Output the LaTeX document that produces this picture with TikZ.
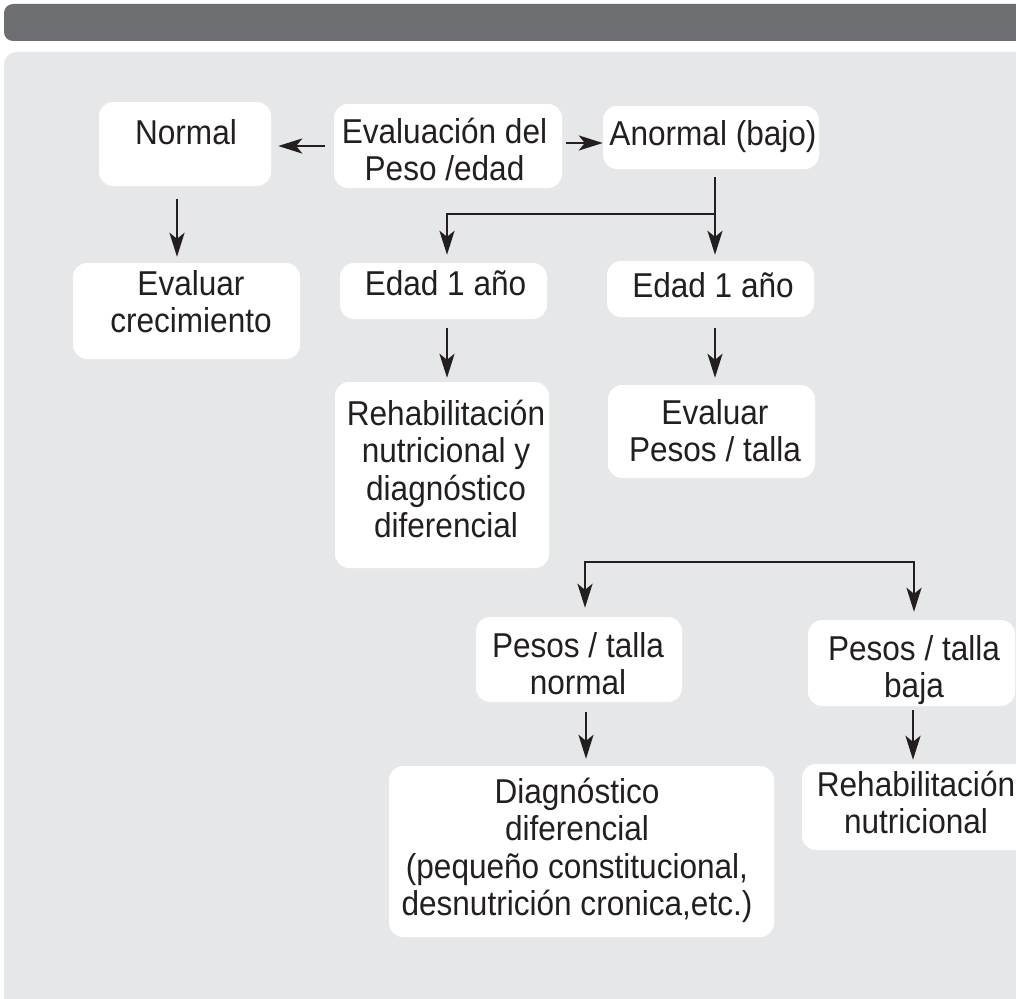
\documentclass[tikz,border=0pt]{standalone}
\usepackage{fontspec}
\setmainfont{Liberation Sans}[FakeStretch=0.915]
\usetikzlibrary{arrows.meta}
\definecolor{ink}{HTML}{231F20}
\definecolor{barc}{HTML}{6D6E71}
\definecolor{panelc}{HTML}{E6E7E8}
\newcommand{\mlines}[1]{\begin{tabular}[t]{@{}c@{}}#1\end{tabular}}
\begin{document}
\begin{tikzpicture}[x=1pt,y=-1pt,
  box/.style={fill=white, rounded corners=14pt, inner sep=0pt},
  txt/.style={anchor=base, text=ink, inner sep=0pt, font=\fontsize{34.5}{37.5}\selectfont},
  arr/.style={draw=ink, line width=2.6pt, -{Stealth[length=24pt,width=15pt,inset=6pt]}}]
\clip (0,0) rectangle (1016,998);
\fill[white] (0,0) rectangle (1016,998);
\fill[barc, rounded corners=9pt] (4,4) rectangle (1040,41);
\fill[panelc, rounded corners=12pt] (4,52) rectangle (1040,1030);

% boxes
\node[box, minimum width=172pt, minimum height=84pt] (normal) at (185,144) {};
\node[box, minimum width=228pt, minimum height=84pt] (eval) at (448,146) {};
\node[box, minimum width=216pt, minimum height=63pt] (anormal) at (711,137.5) {};
\node[box, minimum width=227pt, minimum height=96pt] (crec) at (186.5,311) {};
\node[box, minimum width=207pt, minimum height=56pt] (edadL) at (443.5,291) {};
\node[box, minimum width=207pt, minimum height=56pt] (edadR) at (710.5,289) {};
\node[box, minimum width=214pt, minimum height=186pt] (rehab) at (442,475) {};
\node[box, minimum width=207pt, minimum height=93pt] (evpt) at (711.5,431.5) {};
\node[box, minimum width=206pt, minimum height=85pt] (ptn) at (579,659.5) {};
\node[box, minimum width=207pt, minimum height=86pt] (ptb) at (911.5,663) {};
\node[box, minimum width=385pt, minimum height=171pt] (diag) at (581.5,851.5) {};
\node[box, minimum width=230pt, minimum height=86pt] (rehabR) at (917,807) {};

% texts
\node[txt] (normal-t) at (186,144) {Normal};
\node[txt] (eval-t) at (444.5,143) {\mlines{Evaluación del\\Peso /edad}};
\node[txt] (anormal-t) at (713,145) {Anormal (bajo)};
\node[txt] (crec-t) at (191,295) {\mlines{Evaluar\\crecimiento}};
\node[txt] (edadL-t) at (445.5,295) {Edad 1 año};
\node[txt] (edadR-t) at (713,297) {Edad 1 año};
\node[txt] (rehab-t) at (446,425) {\mlines{Rehabilitación\\nutricional y\\diagnóstico\\diferencial}};
\node[txt] (evpt-t) at (715,424) {\mlines{Evaluar\\Pesos / talla}};
\node[txt] (ptn-t) at (578,657) {\mlines{Pesos / talla\\normal}};
\node[txt] (ptb-t) at (914,660) {\mlines{Pesos / talla\\baja}};
\node[txt] (diag-t) at (577,803) {\mlines{Diagnóstico\\diferencial\\(pequeño constitucional,\\desnutrición cronica,etc.)}};
\node[txt] (rehabR-t) at (916,796) {\mlines{Rehabilitación\\nutricional}};

% connectors
\draw[arr, shorten <=9pt, shorten >=7pt] (eval.west) -- (eval.west -| normal.east);
\draw[arr, shorten <=4pt] ([yshift=3pt]eval.east) -- ([yshift=3pt]eval.east -| anormal.west);
\draw[arr, shorten <=13pt, shorten >=6pt] ([xshift=-8pt]normal.south) -- ([xshift=-8pt]normal.south |- crec.north);
\coordinate (j1) at (715,214);
\draw[arr, shorten <=8pt, shorten >=6pt] (anormal.south -| j1) -- (j1 |- edadR.north);
\draw[arr, shorten >=8pt] (j1) -| ([xshift=3.5pt]edadL.north);
\draw[arr, shorten <=9pt, shorten >=4pt] ([xshift=3.5pt]edadL.south) -- ([xshift=3.5pt]edadL.south |- rehab.north);
\draw[arr, shorten <=11pt, shorten >=7pt] ([xshift=4.5pt]edadR.south) -- ([xshift=4.5pt]edadR.south |- evpt.north);
\coordinate (b1) at (585,562);
\coordinate (b2) at (914,562);
\draw[arr, shorten >=9pt] (b2) -- (b1) -- (b1 |- ptn.north);
\draw[arr, shorten >=8pt] (b1) -- (b2) -- (b2 |- ptb.north);
\draw[arr, shorten <=10pt, shorten >=7pt] ([xshift=7pt]ptn.south) -- ([xshift=7pt]ptn.south |- diag.north);
\draw[arr, shorten <=4pt, shorten >=4pt] ([xshift=1.5pt]ptb.south) -- ([xshift=1.5pt]ptb.south |- rehabR.north);
\end{tikzpicture}
\end{document}
